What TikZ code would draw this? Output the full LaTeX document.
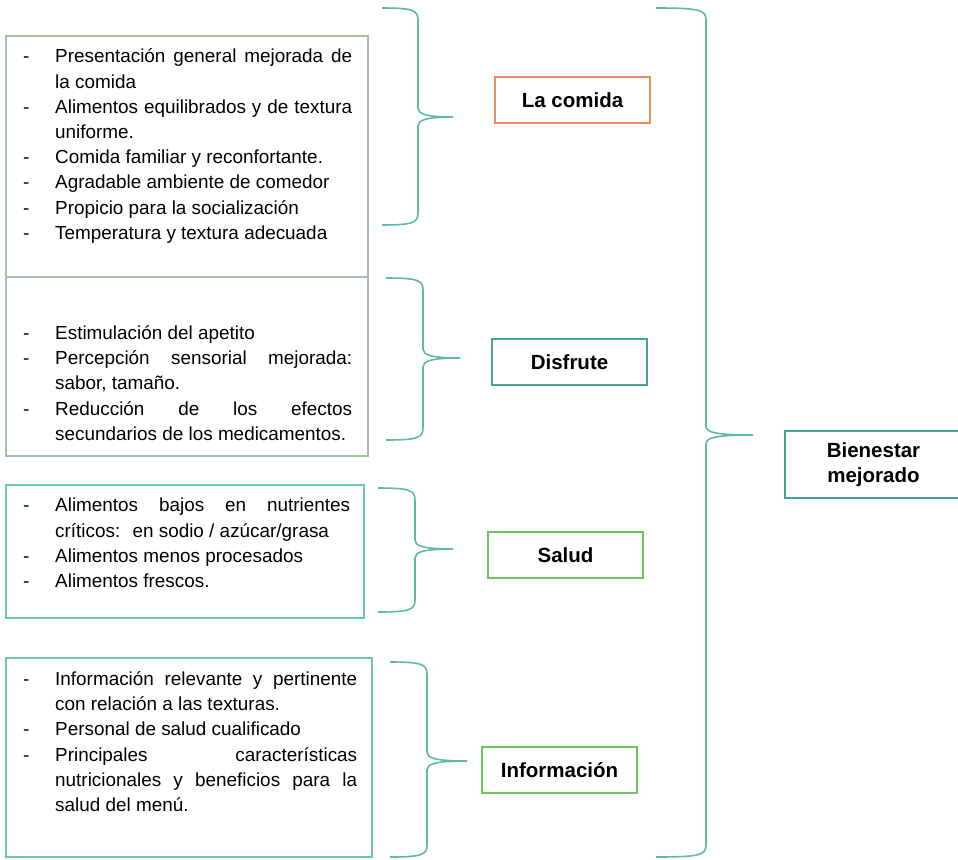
\documentclass[tikz,border=0pt]{standalone}
\usepackage{fontspec}
\setmainfont{Liberation Sans}
\usepackage{tikz}
\usetikzlibrary{positioning}
\definecolor{listgreen}{RGB}{163,194,165}
\definecolor{mintgreen}{RGB}{108,201,168}
\definecolor{bracegreen}{RGB}{95,184,168}
\definecolor{comidaorange}{RGB}{234,139,94}
\definecolor{tealbox}{RGB}{69,165,147}
\definecolor{leafgreen}{RGB}{112,196,96}

% no hyphens, justified lines may stretch
\hyphenpenalty=10000
\exhyphenpenalty=10000
\tolerance=10000
\hbadness=10000

% one dash item with hanging indent
\newcommand{\dashitem}[1]{\par\noindent\hangindent=32pt\hangafter=1\makebox[32pt][l]{-}\strut#1\par}
% curly brace: x left, x spine, x tip, y top, y tip, y bottom
\newcommand{\curlybrace}[6]{%
  \draw[bracestyle] (#1,#4) .. controls (#2-6,#4) and (#2,#4+2) .. (#2,#4+12)
    -- (#2,#5-9) .. controls (#2,#5-3) and (#2+8,#5) .. (#3,#5)
    .. controls (#2+8,#5) and (#2,#5+3) .. (#2,#5+9)
    -- (#2,#6-12) .. controls (#2,#6-2) and (#2-6,#6) .. (#1,#6);}

\begin{document}
\begin{tikzpicture}[x=1pt, y=-1pt,
    listbox/.style={draw=listgreen, line width=1.3pt},
    itemtext/.style={anchor=north west, inner sep=0pt, align=justify,
      font=\fontsize{18.9}{25.2}\selectfont},
    tag/.style={draw, line width=2pt, minimum width=155pt, minimum height=46pt,
      inner sep=0pt, font=\fontsize{20.5}{25}\selectfont\bfseries},
    bracestyle/.style={draw=bracegreen, line width=1.6pt}
]
\useasboundingbox (0,0) rectangle (958,859);

% list boxes
\draw[listbox] (6,36) rectangle (368,277);
\draw[listbox] (6,277) rectangle (368,456);
\draw[listbox, draw=mintgreen] (6,485) rectangle (364,618);
\draw[listbox, draw=mintgreen] (6,658) rectangle (372,857);

\node[itemtext, text width=329pt] (comidatxt) at (23,37.5) {%
  \dashitem{Presentación general mejorada de\linebreak la comida}
  \dashitem{Alimentos equilibrados y de textura\linebreak uniforme.}
  \dashitem{Comida familiar y reconfortante.}
  \dashitem{Agradable ambiente de comedor}
  \dashitem{Propicio para la socialización}
  \dashitem{Temperatura y textura adecuada}};

\node[itemtext, text width=329pt] (disfrutetxt) at (23,314) {%
  \dashitem{Estimulación del apetito}
  \dashitem{Percepción sensorial mejorada:\linebreak sabor, tamaño.}
  \dashitem{Reducción de los efectos\linebreak secundarios de los medicamentos.}};

\node[itemtext, text width=327pt] (saludtxt) at (23,486.5) {%
  \dashitem{Alimentos bajos en nutrientes\linebreak críticos:~ en sodio / azúcar/grasa}
  \dashitem{Alimentos menos procesados}
  \dashitem{Alimentos frescos.}};

\node[itemtext, text width=334pt] (infotxt) at (23,660) {%
  \dashitem{Información relevante y pertinente\linebreak con relación a las texturas.}
  \dashitem{Personal de salud cualificado}
  \dashitem{Principales características\linebreak nutricionales y beneficios para la\linebreak salud del menú.}};

% braces
\curlybrace{382}{418}{453}{8}{117}{225}
\curlybrace{386}{423}{460}{278}{358}{440}
\curlybrace{378}{415}{453}{488}{549}{612}
\curlybrace{390}{427}{467}{662}{761}{857}
\curlybrace{656}{706}{753}{8}{435}{857}

% category labels
\node[tag, draw=comidaorange] (comida) at (572.5,100) {La comida};
\node[tag, draw=tealbox] (disfrute) at (569.5,362) {Disfrute};
\node[tag, draw=leafgreen] (salud) at (565.5,555) {Salud};
\node[tag, draw=leafgreen] (info) at (559.5,770) {Información};
\node[tag, draw=tealbox, minimum width=177pt, minimum height=67pt, align=center] (bienestar) at (873.5,464.5) {Bienestar\\mejorado};

\end{tikzpicture}
\end{document}
